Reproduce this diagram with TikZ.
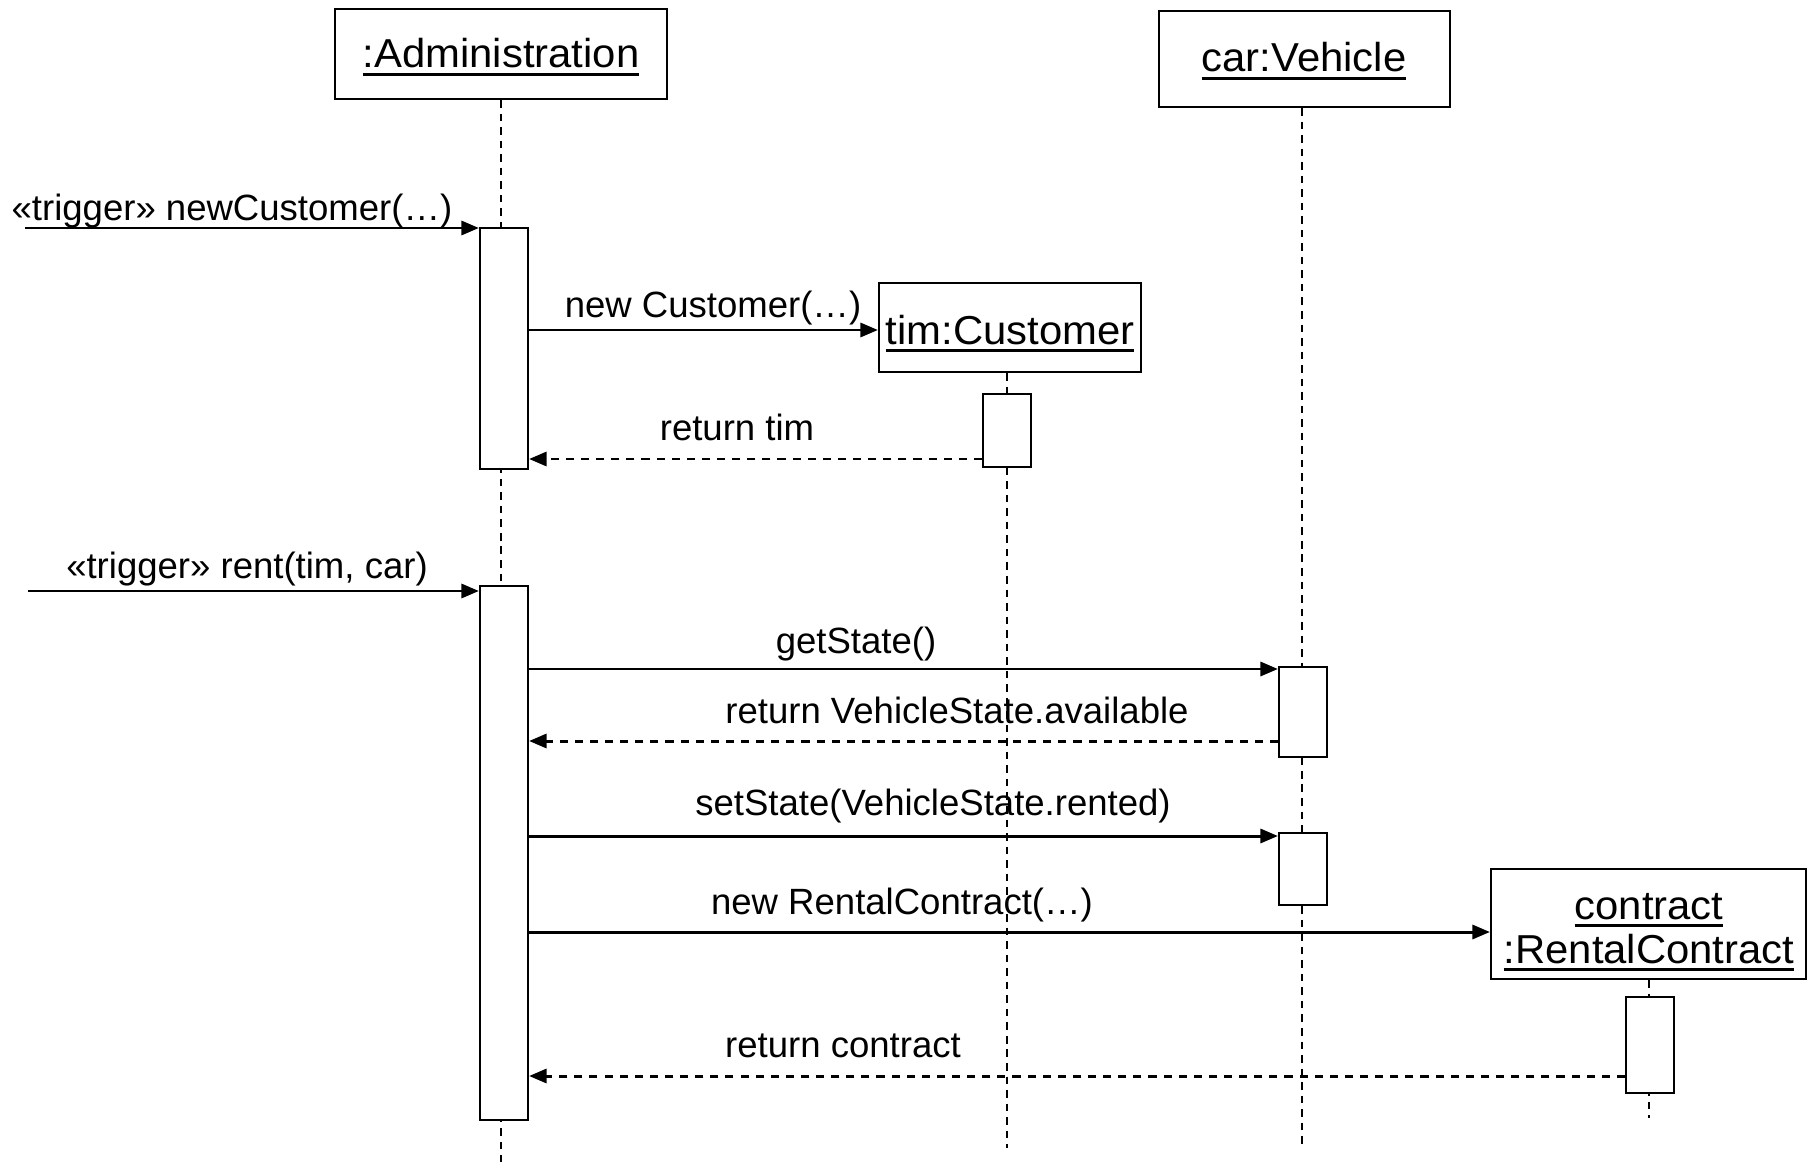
\documentclass[tikz,border=0pt]{standalone}
\usepackage{fontspec}
\setmainfont{Liberation Sans}
\newfontfamily\msgfont{Liberation Sans}
\newfontfamily\objfont[FakeStretch=1.035]{Liberation Sans}
\usetikzlibrary{arrows.meta,fit}

% underlined object name (UML instance notation)
\newsavebox\ulbox
\newcommand\objname[1]{\sbox\ulbox{#1}\rlap{\rule[-4.8pt]{\wd\ulbox}{2.1pt}}\usebox\ulbox}

\tikzset{
  objbox/.style={draw, line width=1.2pt, fill=white, inner sep=0pt},
  actbox/.style={draw, line width=1.2pt, fill=white, inner sep=0pt},
  lifeline/.style={line width=1pt, dash pattern=on 4.3pt off 3.4pt},
  msg/.style={line width=1.7pt, -{Triangle[length=10pt,width=8pt]}},
  ret/.style={msg, dash pattern=on 4.6pt off 4pt},
  msglabel/.style={anchor=base, inner sep=0pt, font=\msgfont\fontsize{20.8}{25}\selectfont},
  objlabel/.style={anchor=base, inner sep=0pt, font=\objfont\fontsize{23}{28}\selectfont},
}

\begin{document}
\begin{tikzpicture}[x=0.02cm, y=-0.02cm]
  \useasboundingbox (0,0) rectangle (1818,1162);

  % ---- objects ----
  \node[objbox, fit={(335,9) (667,99)}] (admin) {};
  \node[objlabel] (adminlbl) at (501,68) {\objname{:Administration}};

  \node[objbox, fit={(1159,11) (1450,107)}] (car) {};
  \node[objlabel] (carlbl) at (1304,72) {\objname{car:Vehicle}};

  % ---- lifelines ----
  \coordinate (adminend) at (501,1162);
  \coordinate (carend) at (1302,1148);
  \coordinate (timend) at (1007,1148);
  \coordinate (contractend) at (1649,1118);
  \draw[lifeline] (admin.south -| adminend) -- (adminend);
  \draw[lifeline] (car.south -| carend) -- (carend);

  \node[objbox, fit={(879,283) (1141,372)}] (tim) {};
  \node[objlabel] (timlbl) at (1010,344) {\objname{tim:Customer}};
  \draw[lifeline] (tim.south -| timend) -- (timend);

  \node[objbox, fit={(1491,869) (1806,979)}] (contract) {};
  \node[objlabel] (contractlbla) at (1649,919) {\objname{contract}};
  \node[objlabel] (contractlblb) at (1649,963) {\objname{:RentalContract}};
  \draw[lifeline] (contract.south -| contractend) -- (contractend);

  % ---- activations ----
  \node[actbox, fit={(480,228) (528,469)}] (act1) {};
  \node[actbox, fit={(983,394) (1031,467)}] (actT) {};
  \node[actbox, fit={(480,586) (528,1120)}] (act2) {};
  \node[actbox, fit={(1279,667) (1327,757)}] (actV1) {};
  \node[actbox, fit={(1279,833) (1327,905)}] (actV2) {};
  \node[actbox, fit={(1626,997) (1674,1093)}] (actC) {};

  % ---- messages: newCustomer ----
  \coordinate (trig1) at (25,228);
  \draw[msg] (trig1) -- (trig1 -| act1.west);
  \node[msglabel] (trig1lbl) at (232,220) {«trigger» newCustomer(…)};

  \draw[msg] (act1.east |- 0,330) -- (tim.west |- 0,330);
  \node[msglabel] (newcustlbl) at (713,317) {new Customer(…)};

  \draw[ret] (actT.west |- 0,459) -- (act1.east |- 0,459);
  \node[msglabel] (rettimlbl) at (737,440) {return tim};

  % ---- messages: rent ----
  \coordinate (trig2) at (28,591);
  \draw[msg] (trig2) -- (trig2 -| act2.west);
  \node[msglabel] (trig2lbl) at (247,578) {«trigger» rent(tim, car)};

  \draw[msg] (act2.east |- 0,669) -- (actV1.west |- 0,669);
  \node[msglabel] (getlbl) at (856,653) {getState()};

  \draw[ret] (actV1.west |- 0,741) -- (act2.east |- 0,741);
  \node[msglabel] (availlbl) at (957,723) {return VehicleState.available};

  \draw[msg] (act2.east |- 0,836) -- (actV2.west |- 0,836);
  \node[msglabel] (setlbl) at (933,815) {setState(VehicleState.rented)};

  \draw[msg] (act2.east |- 0,932) -- (contract.west |- 0,932);
  \node[msglabel] (newrentlbl) at (902,914) {new RentalContract(…)};

  \draw[ret] (actC.west |- 0,1076) -- (act2.east |- 0,1076);
  \node[msglabel] (retcontlbl) at (843,1057) {return contract};
\end{tikzpicture}
\end{document}
